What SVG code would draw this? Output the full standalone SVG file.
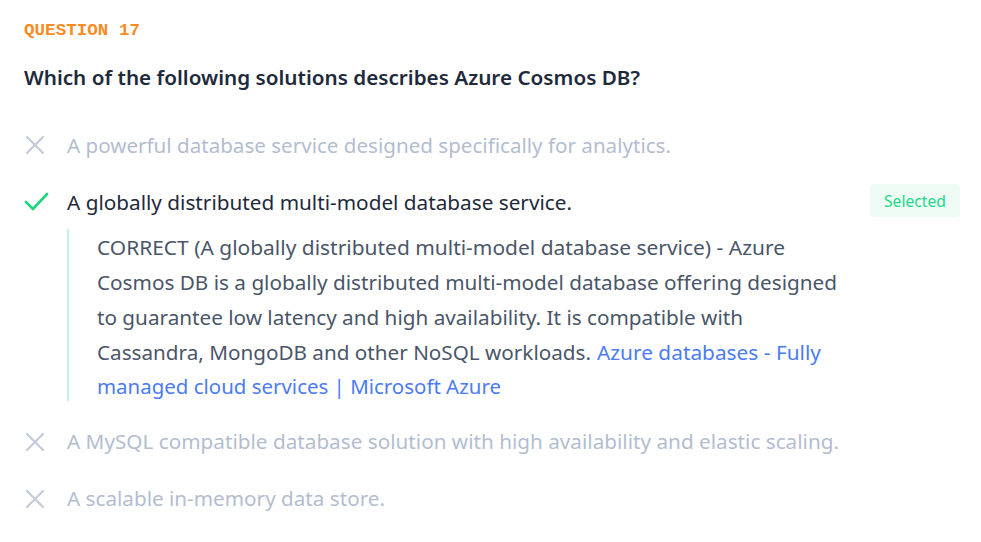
<svg xmlns="http://www.w3.org/2000/svg" width="981" height="542" viewBox="0 0 981 542">
<style>
.t{font-family:"Noto Sans","Open Sans","Liberation Sans",sans-serif;font-size:20px}
.dim{fill:#b3bdcf}
.ic-x{stroke:#c3cad9;stroke-width:2.2;fill:none;stroke-linecap:round}
.exp{fill:#4a5568}
.lnk{fill:#4b7bf5}
</style>
<rect width="981" height="542" fill="#ffffff"/>
<g id="header">
<text x="24" y="35" font-family="'Liberation Mono','DejaVu Sans Mono',monospace" font-weight="bold" font-size="17" fill="#f98b23" textLength="116" lengthAdjust="spacingAndGlyphs">QUESTION 17</text>
<text x="24" y="85" class="t" font-weight="600" fill="#1e2a3b" textLength="616" lengthAdjust="spacingAndGlyphs">Which of the following solutions describes Azure Cosmos DB?</text>
</g>
<g id="option1">
<path class="ic-x" d="M27 137L43 153M43 137L27 153"/>
<text x="67" y="153" class="t dim" textLength="604" lengthAdjust="spacingAndGlyphs">A powerful database service designed specifically for analytics.</text>
</g>
<g id="option2">
<path d="M26 202L33 209L47 194" stroke="#1ed47f" stroke-width="2.6" fill="none" stroke-linecap="round" stroke-linejoin="round"/>
<text x="67" y="210" class="t" fill="#1e2a3b" textLength="505" lengthAdjust="spacingAndGlyphs">A globally distributed multi-model database service.</text>
<g id="badge">
<rect x="870" y="184" width="90" height="33" rx="4" fill="#effcf6"/>
<text x="915" y="207" text-anchor="middle" font-family="'Noto Sans','Open Sans',sans-serif" font-size="16" fill="#1ed88a" textLength="62" lengthAdjust="spacingAndGlyphs">Selected</text>
</g>
</g>
<g id="explanation">
<line x1="68" y1="229" x2="68" y2="401" stroke="#c3f5e2" stroke-width="2"/>
<text x="97" y="255" class="t exp" textLength="688" lengthAdjust="spacingAndGlyphs">CORRECT (A globally distributed multi-model database service) - Azure</text>
<text x="97" y="290" class="t exp" textLength="740" lengthAdjust="spacingAndGlyphs">Cosmos DB is a globally distributed multi-model database offering designed</text>
<text x="97" y="325" class="t exp" textLength="646" lengthAdjust="spacingAndGlyphs">to guarantee low latency and high availability. It is compatible with</text>
<text x="97" y="360" class="t exp" textLength="494" lengthAdjust="spacingAndGlyphs">Cassandra, MongoDB and other NoSQL workloads.</text>
<text x="597" y="360" class="t lnk" textLength="224" lengthAdjust="spacingAndGlyphs">Azure databases - Fully</text>
<text x="97" y="394" class="t lnk" textLength="404" lengthAdjust="spacingAndGlyphs">managed cloud services | Microsoft Azure</text>
</g>
<g id="option3">
<path class="ic-x" d="M27 434L43 450M43 434L27 450"/>
<text x="67" y="449" class="t dim" textLength="772" lengthAdjust="spacingAndGlyphs">A MySQL compatible database solution with high availability and elastic scaling.</text>
</g>
<g id="option4">
<path class="ic-x" d="M27 491L43 507M43 491L27 507"/>
<text x="67" y="506" class="t dim" textLength="318" lengthAdjust="spacingAndGlyphs">A scalable in-memory data store.</text>
</g>
</svg>
